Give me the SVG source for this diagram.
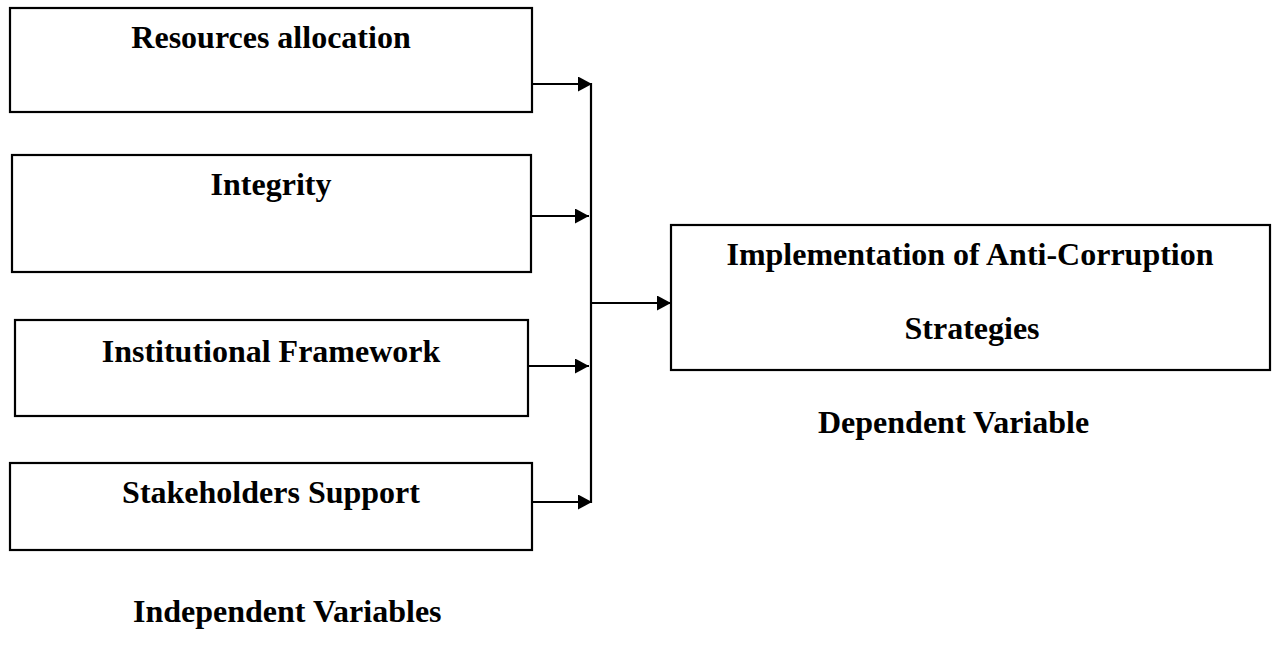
<svg xmlns="http://www.w3.org/2000/svg" width="1276" height="662" viewBox="0 0 1276 662">
<style>
.box{fill:#fff;stroke:#000;stroke-width:2.2}
.t{font-family:"Liberation Serif","Times New Roman",serif;font-weight:bold;font-size:32px;fill:#000}
.c{text-anchor:middle}
.ln{fill:none;stroke:#000;stroke-width:2.2}
</style>
<defs>
<marker id="ah" markerUnits="userSpaceOnUse" markerWidth="16" markerHeight="16" refX="14" refY="7.5" orient="auto">
<path d="M0,0 L14,7.5 L0,15 z" fill="#000"/>
</marker>
</defs>
<rect width="1276" height="662" fill="#fff"/>
<g id="n1"><rect class="box" x="10" y="8" width="522" height="104"/><text class="t c" x="271" y="48">Resources allocation</text></g>
<g id="n2"><rect class="box" x="12" y="155" width="519" height="117"/><text class="t c" x="271" y="195">Integrity</text></g>
<g id="n3"><rect class="box" x="15" y="320" width="513" height="96"/><text class="t c" x="271" y="362">Institutional Framework</text></g>
<g id="n4"><rect class="box" x="10" y="463" width="522" height="87"/><text class="t c" x="271" y="503">Stakeholders Support</text></g>
<g id="n5"><rect class="box" x="671" y="225" width="599" height="145"/><text class="t c" x="970" y="265">Implementation of Anti-Corruption</text><text class="t c" x="972" y="339">Strategies</text></g>
<g id="labels"><text class="t" x="818" y="433">Dependent Variable</text><text class="t" x="133" y="622">Independent Variables</text></g>
<g id="connectors">
<line class="ln" x1="533" y1="84" x2="592" y2="84" marker-end="url(#ah)"/>
<line class="ln" x1="532" y1="216" x2="589" y2="216" marker-end="url(#ah)"/>
<line class="ln" x1="529" y1="366" x2="589" y2="366" marker-end="url(#ah)"/>
<line class="ln" x1="533" y1="502" x2="592" y2="502" marker-end="url(#ah)"/>
<line class="ln" x1="591" y1="83" x2="591" y2="503"/>
<line class="ln" x1="591" y1="303" x2="671" y2="303" marker-end="url(#ah)"/>
</g>
</svg>
